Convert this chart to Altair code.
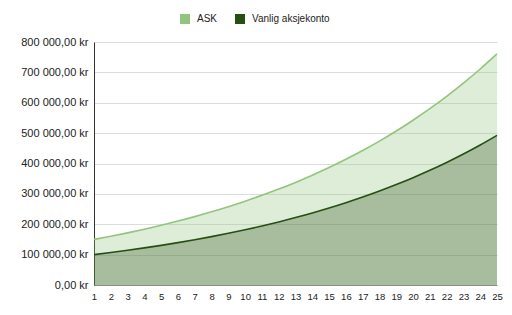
import altair as alt
import pandas as pd

years = list(range(1, 26))
ask = [150000, 160500, 171700, 183800, 196600, 210400, 225100, 240900, 257700,
       275800, 295100, 315700, 337800, 361500, 386800, 413900, 442800, 473800,
       507000, 542500, 580500, 621100, 664600, 711100, 760900]
vanlig = [100000, 106900, 114200, 122100, 130400, 139400, 149000, 159200, 170200,
          181800, 194300, 207700, 222000, 237200, 253500, 270900, 289500, 309400,
          330700, 353400, 377700, 403600, 431300, 461000, 492700]
series = ["ASK", "Vanlig aksjekonto"]
colors = ["#93c47d", "#274e13"]

df = pd.DataFrame({
    "year": years * 2,
    "value": ask + vanlig,
    "series": [series[0]] * len(years) + [series[1]] * len(years),
})

FONT = "Liberation Sans"
ylabel = "replace(replace(format(datum.value, ',.2f'), ',', ' '), '.', ',') + ' kr'"

x = alt.X("year:Q", scale=alt.Scale(domain=[1, 25], nice=False, zero=False),
          axis=alt.Axis(values=years, title=None, grid=False, ticks=False,
                        labelFontSize=9.5, labelPadding=6, labelColor="#222",
                        labelFont=FONT, domainColor="#8c8c8c", labelFlush=False,
                        labelOverlap=False))
y = alt.Y("value:Q", scale=alt.Scale(domain=[0, 800000], nice=False),
          stack=None,
          axis=alt.Axis(values=list(range(0, 800001, 100000)), title=None,
                        ticks=False, labelFontSize=11, labelPadding=6,
                        labelColor="#222", labelFont=FONT, labelExpr=ylabel,
                        gridColor="#dddddd", domainColor="#333333"))
color = alt.Color("series:N", scale=alt.Scale(domain=series, range=colors),
                  sort=series,
                  legend=alt.Legend(title=None, orient="none", direction="horizontal",
                                    legendX=86, legendY=-28, symbolType="square",
                                    symbolSize=100, symbolOpacity=1,
                                    symbolStrokeWidth=0, labelFontSize=10,
                                    labelFont=FONT, labelColor="#222",
                                    labelOffset=7, columnPadding=17))

base = alt.Chart(df)
area = base.mark_area(fillOpacity=0.3, interpolate="monotone").encode(
    x=x, y=y, color=color, order=alt.Order("series:N"))
line = base.mark_line(strokeWidth=1.6, interpolate="monotone").encode(
    x=x, y=y, color=alt.Color("series:N", scale=alt.Scale(domain=series, range=colors), legend=None),
    detail="series:N")

chart = alt.layer(area, line).properties(
    width=403, height=243,
    autosize=alt.AutoSizeParams(type="none"),
    padding={"left": 94, "top": 42, "right": 15, "bottom": 30},
).configure_view(stroke=None)

chart.save("out.html", embed_options={"renderer": "svg", "actions": False})
